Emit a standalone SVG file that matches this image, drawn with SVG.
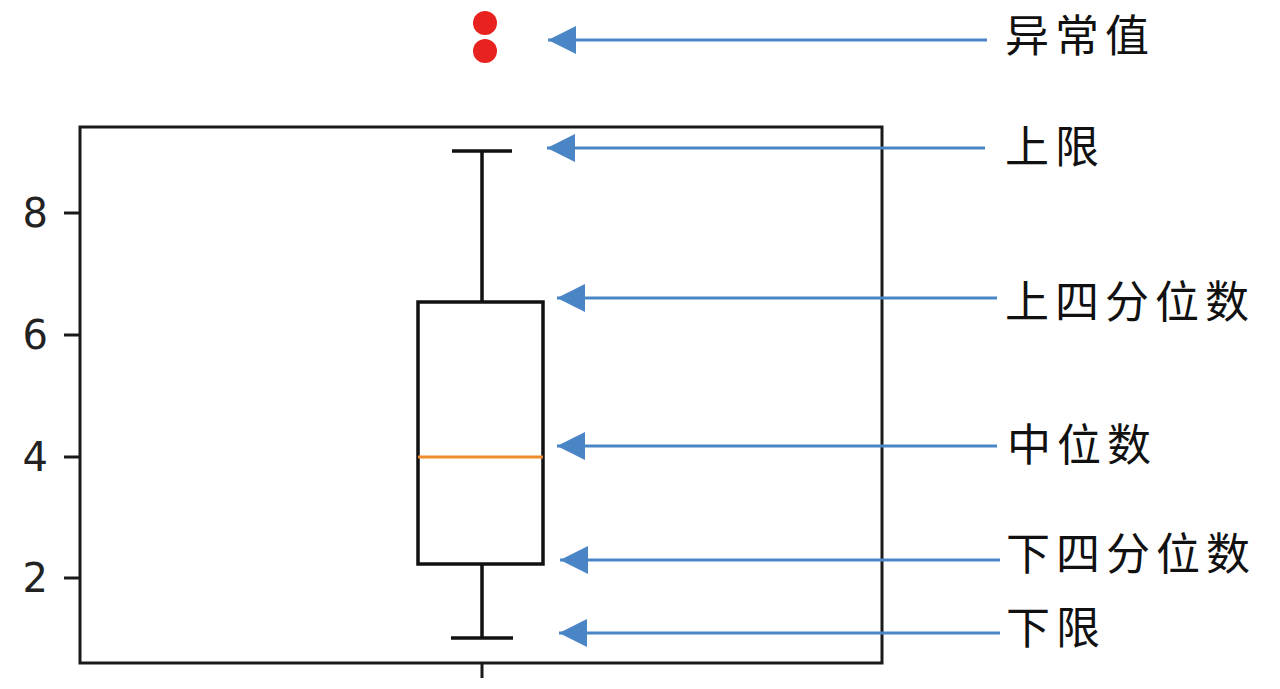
<svg xmlns="http://www.w3.org/2000/svg" width="1280" height="689" viewBox="0 0 1280 689">
<style>
.ax{fill:none;stroke:#1a1a1a;stroke-width:3}
.bx{fill:none;stroke:#111;stroke-width:3.5}
.tk{font-family:"DejaVu Sans",sans-serif;font-size:40px;fill:#222;text-anchor:end}
.lb{font-family:"Noto Sans CJK SC","Noto Sans",sans-serif;font-size:44px;letter-spacing:6px;fill:#111}
.ar{stroke:#4a86c5;stroke-width:3;fill:none}
</style>
<defs>
<marker id="ah" viewBox="0 0 28 28" refX="28" refY="14" markerWidth="28" markerHeight="28" markerUnits="userSpaceOnUse" orient="auto">
<path d="M0,0 L28,14 L0,28 Z" fill="#4a86c5"/>
</marker>
</defs>
<rect width="1280" height="689" fill="#fff"/>
<g id="axes">
<rect class="ax" x="80" y="127" width="802" height="536"/>
<path class="ax" d="M64,213H80M64,335H80M64,457H80M64,578H80M482,663V678"/>
<text class="tk" x="48" y="227">8</text>
<text class="tk" x="48" y="349">6</text>
<text class="tk" x="48" y="471">4</text>
<text class="tk" x="48" y="592">2</text>
</g>
<g id="boxplot">
<path class="bx" d="M482,151V302M452,151H512M482,564V638M451,638H513"/>
<rect class="bx" x="418" y="302" width="125" height="262"/>
<line x1="418" y1="457" x2="543" y2="457" stroke="#f28a2e" stroke-width="3"/>
</g>
<g id="outliers" fill="#e8231f">
<circle cx="485" cy="23" r="12"/>
<circle cx="485" cy="51" r="12"/>
</g>
<g id="connectors">
<line class="ar" x1="987" y1="40" x2="548" y2="40" marker-end="url(#ah)"/>
<line class="ar" x1="985" y1="148" x2="547" y2="148" marker-end="url(#ah)"/>
<line class="ar" x1="997" y1="298" x2="557" y2="298" marker-end="url(#ah)"/>
<line class="ar" x1="997" y1="446" x2="557" y2="446" marker-end="url(#ah)"/>
<line class="ar" x1="1000" y1="560" x2="560" y2="560" marker-end="url(#ah)"/>
<line class="ar" x1="1000" y1="633" x2="559" y2="633" marker-end="url(#ah)"/>
</g>
<g id="labels">
<text class="lb" x="1005" y="52">异常值</text>
<text class="lb" x="1005" y="163">上限</text>
<text class="lb" x="1005" y="318">上四分位数</text>
<text class="lb" x="1007" y="461">中位数</text>
<text class="lb" x="1006" y="570">下四分位数</text>
<text class="lb" x="1006" y="644">下限</text>
</g>
</svg>
